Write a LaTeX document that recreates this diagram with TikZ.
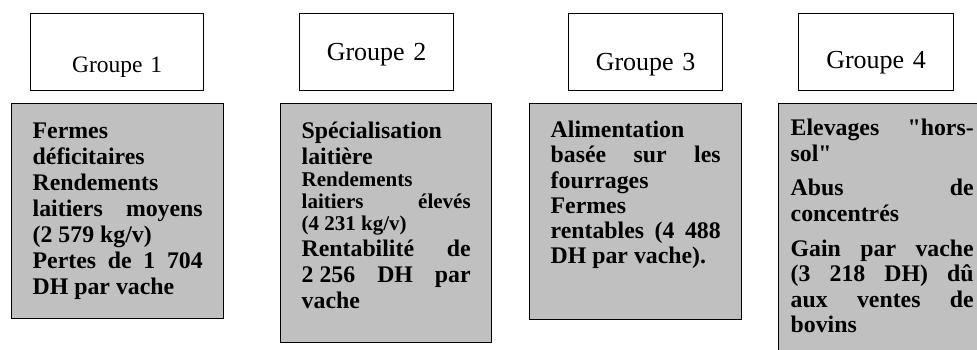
\documentclass[tikz,border=0pt]{standalone}
\usepackage{fontspec}
\setmainfont{Liberation Serif}
\newfontfamily\plainserif{Liberation Serif}
\definecolor{boxgray}{RGB}{192,192,192}
\tikzset{ hdr/.style = { rectangle % group title
        , draw
        , line width = 1.2pt
        , anchor = north west
        , inner sep = 0pt
        , text width = 173pt
        , align = center
        , font = \fontsize{26}{28}\selectfont
        }
        , prof/.style = { rectangle % group profile
        , draw
        , fill = boxgray
        , line width = 1.4pt
        , anchor = north west
        , inner xsep = 21pt
        , inner ysep = 0pt
        , text width = 170pt
        , align = justify
        , font = \fontsize{23.8}{26}\selectfont\bfseries
        , execute at begin node = {\tolerance=10000\hbadness=10000\hyphenpenalty=10000\parindent=0pt\parskip=0pt}
        }
        }
\newcommand{\dq}{{\plainserif"}}

\begin{document}
\begin{tikzpicture}[x=1pt, y=-1pt]
        \clip (0,0) rectangle (977,349);

        \node [hdr, text height=59pt, text depth=18pt, font=\fontsize{23.5}{26}\selectfont] (g1) at (30,13) {Groupe 1};
        \node [hdr, text width=154pt, text height=47pt, text depth=30pt] (g2) at (299,13) {Groupe 2};
        \node [hdr, text width=154pt, text height=57pt, text depth=20pt] (g3) at (568,13) {Groupe 3};
        \node [hdr, text width=155pt, text height=55pt, text depth=22pt] (g4) at (798,13) {Groupe 4\hspace*{20pt}};

        \node [prof, text height=35pt, text depth=180pt] (p1) at (11,103)
                {Fermes\linebreak déficitaires\par
                Rendements\linebreak laitiers moyens\linebreak (2 579 kg/v)\par
                Pertes de 1 704\linebreak DH par vache};
        \node [prof, text width=169pt, text height=35pt, text depth=204pt] (p2) at (280,103)
                {Spécialisation\linebreak laitière\par
                {\fontsize{21}{22}\selectfont Rendements\linebreak laitiers élevés\linebreak (\mbox{4 231} kg/v)\par}
                Rentabilité de\linebreak \mbox{2 256} DH par\linebreak vache};
        \node [prof, text height=34pt, text depth=182pt, font=\fontsize{23.8}{25.2}\selectfont\bfseries] (p3) at (529,103)
                {Alimentation\linebreak basée sur les\linebreak fourrages\par
                Fermes\linebreak rentables (4 488\linebreak DH par vache).};
        \node [prof, inner xsep=12pt, text width=183pt, text height=32pt, text depth=260pt,
                font=\fontsize{23.8}{25.6}\selectfont\bfseries,
                execute at begin node={\parskip=9pt}] (p4) at (778,103)
                {Elevages \dq hors-\linebreak sol\dq\par
                Abus de\linebreak concentrés\par
                Gain par vache\linebreak (3 218 DH) dû\linebreak aux ventes de\linebreak bovins};
\end{tikzpicture}
\end{document}
